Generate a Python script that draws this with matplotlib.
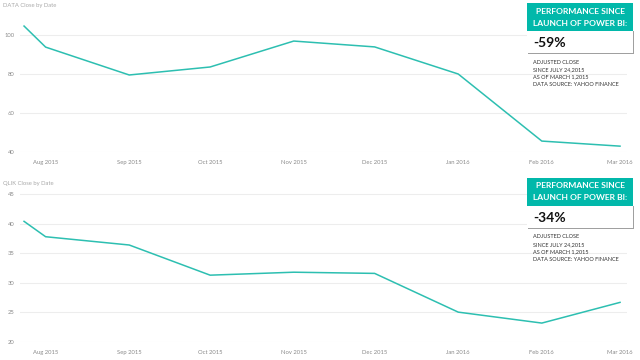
import matplotlib
matplotlib.use('Agg')
import matplotlib.pyplot as plt
import matplotlib.dates as mdates
from matplotlib.patches import Rectangle
import numpy as np

# ── Data ──────────────────────────────────────────────────────────────────
dates = np.array(['2015-07-24', '2015-08-01', '2015-09-01', '2015-10-01',
                  '2015-11-01', '2015-12-01', '2016-01-01', '2016-02-01',
                  '2016-03-01'], dtype='datetime64[D]')
data_close = [104.6, 93.8, 79.5, 83.6, 96.9, 93.9, 80.0, 45.6, 43.0]
qlik_close = [40.4, 37.8, 36.4, 31.3, 31.8, 31.6, 25.05, 23.2, 26.7]

data_ticks = [40, 60, 80, 100]
qlik_ticks = [20, 25, 30, 35, 40, 45]
month_ticks = np.array(['2015-08-01', '2015-09-01', '2015-10-01', '2015-11-01',
                        '2015-12-01', '2016-01-01', '2016-02-01', '2016-03-01'],
                       dtype='datetime64[D]')

TEAL = '#01B8AA'
LINE = '#2DBFB1'
GRID = '#EDEDED'
TICK = '#8A8A8A'
FONT = 'Lato'

W, H = 640, 360
fig = plt.figure(figsize=(W / 100, H / 100), dpi=100)


def px_axes(left, top, right, bottom):
    return fig.add_axes([left / W, 1 - bottom / H, (right - left) / W, (bottom - top) / H])


def stock_panel(ax, vals, yticks, ylim, title, title_y):
    ax.plot(dates, vals, color=LINE, lw=1.1, solid_joinstyle='round')
    ax.set_xlim(np.datetime64('2015-07-22T12:00'), np.datetime64('2016-03-03T14:00'))
    ax.set_ylim(*ylim)
    ax.set_yticks(yticks)
    ax.set_xticks(month_ticks)
    ax.xaxis.set_major_formatter(mdates.DateFormatter('%b %Y'))
    ax.grid(axis='y', color=GRID, lw=0.8)
    ax.set_axisbelow(True)
    for s in ax.spines.values():
        s.set_visible(False)
    ax.tick_params(length=0, labelsize=4.2, colors=TICK, pad=4)
    ax.tick_params(axis='x', pad=5.5)
    for lbl in ax.get_xticklabels() + ax.get_yticklabels():
        lbl.set_family(FONT)
    fig.text(3 / W, 1 - title_y / H, title, fontsize=4.2, color='#A8A8A8',
             family=FONT, va='center', ha='left')


ax1 = px_axes(20, 20, 627, 152)
stock_panel(ax1, data_close, data_ticks, (40, 107.7), 'DATA Close by Date', 5)

ax2 = px_axes(20, 190, 627, 342)
stock_panel(ax2, qlik_close, qlik_ticks, (20, 45.7), 'QLIK Close by Date', 184)

# ── KPI call-out boxes (pixel overlay) ──────────────────────────────────────
ov = fig.add_axes([0, 0, 1, 1])
ov.set_xlim(0, W)
ov.set_ylim(H, 0)
ov.axis('off')

notes = ['ADJUSTED CLOSE', 'SINCE JULY 24,2015', 'AS OF MARCH 1,2015',
         'DATA SOURCE: YAHOO FINANCE']


def kpi_box(top, pct):
    ov.add_patch(Rectangle((527, top), 106, 28, color=TEAL, lw=0))
    ov.text(580, top + 8, 'PERFORMANCE SINCE', color='white', fontsize=6.1,
            fontweight='bold', family=FONT, ha='center', va='center')
    ov.text(580, top + 20, 'LAUNCH OF POWER BI:', color='white', fontsize=6.1,
            fontweight='bold', family=FONT, ha='center', va='center')
    ov.add_patch(Rectangle((528, top + 28), 106, 23, color='#A0A0A0', lw=0))
    ov.add_patch(Rectangle((527, top + 28), 106, 22, facecolor='white', lw=0))
    ov.text(533, top + 40, pct, fontsize=10, fontweight='bold', family=FONT,
            color='#111111', ha='left', va='center')
    for i, line in enumerate(notes):
        ov.text(533, top + 59 + i * 7.6, line, fontsize=4.0, family=FONT,
                color='#333333', ha='left', va='center')


kpi_box(3, '-59%')
kpi_box(178, '-34%')

fig.savefig('out.png', dpi=100)
